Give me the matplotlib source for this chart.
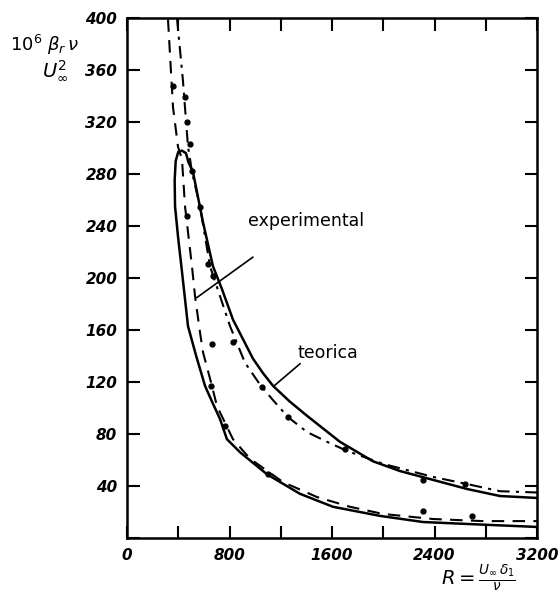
import matplotlib
matplotlib.use("Agg")
import matplotlib.pyplot as plt

# Theoretical neutral curve (closed loop), R and 10^6*beta*nu/U^2
theo_R = [3200, 2654, 2310, 1975, 1608, 1350, 1093, 882, 780, 726, 663, 609, 540, 476,
          429, 398, 375, 372, 380, 400, 429, 460, 480, 515, 593, 671, 741, 827, 905,
          983, 1060, 1140, 1270, 1405, 1662, 1920, 2131, 2654, 2911, 3200]
theo_Y = [8.5, 10.8, 12.3, 17, 24, 34, 49, 66, 76, 91.5, 105, 117, 140, 163,
          205, 232, 255, 275, 290, 297, 298, 296, 289, 281.5, 243, 209, 191.5, 168, 153,
          138, 127, 117, 105, 94, 74, 59, 51.5, 37.7, 32.3, 30.8]

# Experimental curve, lower branch
expl_R = [320, 359, 398, 429, 453, 507, 531, 570, 593, 663, 702, 827, 960, 1218,
          1483, 1741, 1998, 2388, 2779, 3200]
expl_Y = [399, 331.5, 301, 291.5, 255, 209, 186, 158, 143, 117, 101.5, 76, 61, 43,
          31.5, 24, 18.5, 14.6, 13, 13]

# Experimental curve, upper branch
expu_R = [390, 437, 476, 492, 507, 570, 648, 726, 804, 920, 1038, 1140, 1257, 1405,
          1561, 1717, 2000, 2388, 2654, 2911, 3200]
expu_Y = [400, 351.5, 301, 291.5, 281.5, 255, 209, 186, 163, 135, 118, 106, 93, 81.5,
          74, 67, 57, 47, 41.5, 36, 35]

# Measured points
pts_R = [359, 453, 468, 492, 507, 570, 468, 632, 671, 663, 827, 656, 1054, 765,
         1257, 1100, 1701, 2310, 2638, 2310, 2693]
pts_Y = [348, 339, 320, 303, 282, 255, 248, 211, 201.5, 149, 151, 117, 116, 86,
         93, 49, 68.5, 45, 41.5, 21, 17]

x_ticks = [0, 400, 800, 1200, 1600, 2000, 2400, 2800, 3200]
x_labels = ["0", "", "800", "", "1600", "", "2400", "", "3200"]
y_ticks = [0, 40, 80, 120, 160, 200, 240, 280, 320, 360, 400]
y_labels = ["", "40", "80", "120", "160", "200", "240", "280", "320", "360", "400"]

fig = plt.figure(figsize=(5.6, 5.98), dpi=100)
ax = fig.add_axes([127/560, 1 - 538/598, (537 - 127)/560, (538 - 18)/598])

ax.plot(theo_R, theo_Y, color="black", lw=1.8, solid_joinstyle="round")
ax.plot(expl_R, expl_Y, color="black", lw=1.5, dashes=(6, 4))
ax.plot(expu_R, expu_Y, color="black", lw=1.5, dashes=(6, 3, 1.5, 3))
ax.plot(pts_R, pts_Y, "o", color="black", ms=3.5, ls="none")

ax.set_xlim(0, 3200)
ax.set_ylim(0, 400)
ax.set_xticks(x_ticks)
ax.set_xticklabels(x_labels)
ax.set_yticks(y_ticks)
ax.set_yticklabels(y_labels)
for lab in ax.get_xticklabels() + ax.get_yticklabels():
    lab.set_fontstyle("italic")
    lab.set_fontweight("bold")
    lab.set_fontsize(11)
ax.tick_params(axis="both", direction="in", length=9, width=1.5,
               top=True, right=True, pad=7)
for s in ax.spines.values():
    s.set_linewidth(1.8)

# annotations
ax.text(1397, 244, "experimental", fontsize=12.5, ha="center", va="center")
ax.plot([982, 546], [216, 185], color="black", lw=1.2)
ax.text(1569, 142, "teorica", fontsize=12.5, ha="center", va="center")
ax.plot([1350, 1148], [134, 117], color="black", lw=1.2)

fig.text(45/560, 1 - 45/598, r"$10^6\ \beta_r\,\nu$", fontsize=13,
         ha="center", va="center", style="italic")
fig.text(55/560, 1 - 70/598, r"$U_\infty^2$", fontsize=14,
         ha="center", va="center")
fig.text(478/560, 1 - 578/598, r"$R=\frac{U_\infty\,\delta_1}{\nu}$", fontsize=14,
         ha="center", va="center")

fig.savefig("out.png", dpi=100)
